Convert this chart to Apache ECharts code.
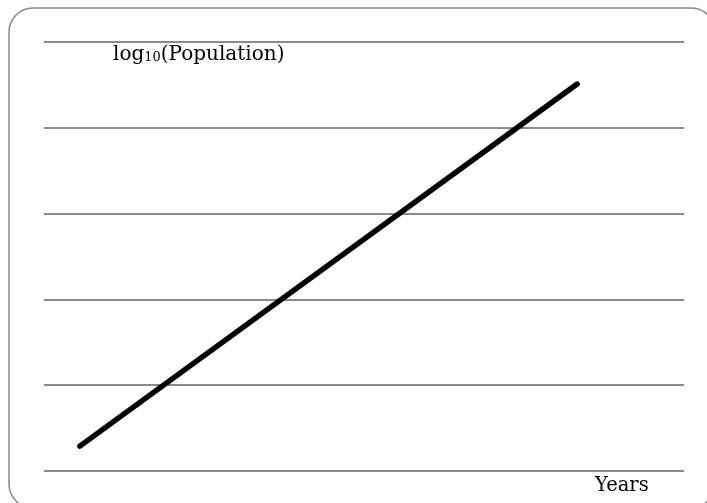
<!DOCTYPE html>
<html>
<head>
<meta charset="utf-8">
<script src="https://cdn.jsdelivr.net/npm/echarts@6/dist/echarts.min.js"></script>
<style>
html,body{margin:0;padding:0;background:#fff;}
#c{width:707px;height:503px;}
</style>
</head>
<body>
<div id="c"></div>
<script>
const years = [5.6, 83.3];
const logPop = [0.29, 4.51];
const yLabel = 'log10(Population)';
const xLabel = 'Years';

const chart = echarts.init(document.getElementById('c'), null, {renderer: 'canvas'});
chart.setOption({
  animation: false,
  grid: {left: 44, right: 23, top: 42, bottom: 32},
  xAxis: {
    type: 'value', min: 0, max: 100,
    axisLine: {show: false}, axisTick: {show: false}, axisLabel: {show: false},
    splitLine: {show: false}
  },
  yAxis: {
    type: 'value', min: 0, max: 5, interval: 1,
    axisLine: {show: false}, axisTick: {show: false}, axisLabel: {show: false},
    splitLine: {show: true, lineStyle: {color: '#8a8a8a', width: 2}}
  },
  series: [{
    type: 'line',
    data: years.map((x, i) => [x, logPop[i]]),
    symbol: 'none',
    lineStyle: {color: '#000', width: 5.5, cap: 'round'}
  }],
  graphic: [
    {
      type: 'rect', shape: {x: 9, y: 8, width: 706, height: 500, r: 24},
      style: {fill: 'none', stroke: '#8a8a8a', lineWidth: 1.5}, silent: true
    },
    {
      type: 'text', left: 113, top: 45,
      style: {
        text: '{m|log}{s|10}{m|(Population)}',
        rich: {
          m: {fontFamily: 'DejaVu Serif', fontSize: 20, fill: '#000'},
          s: {fontFamily: 'DejaVu Serif', fontSize: 13, fill: '#000', padding: [6, 0, 0, 0]}
        }
      }
    },
    {
      type: 'text', left: 595, top: 476,
      style: {text: xLabel, fontFamily: 'DejaVu Serif', fontSize: 19.5, fill: '#000'}
    }
  ]
});
</script>
</body>
</html>
